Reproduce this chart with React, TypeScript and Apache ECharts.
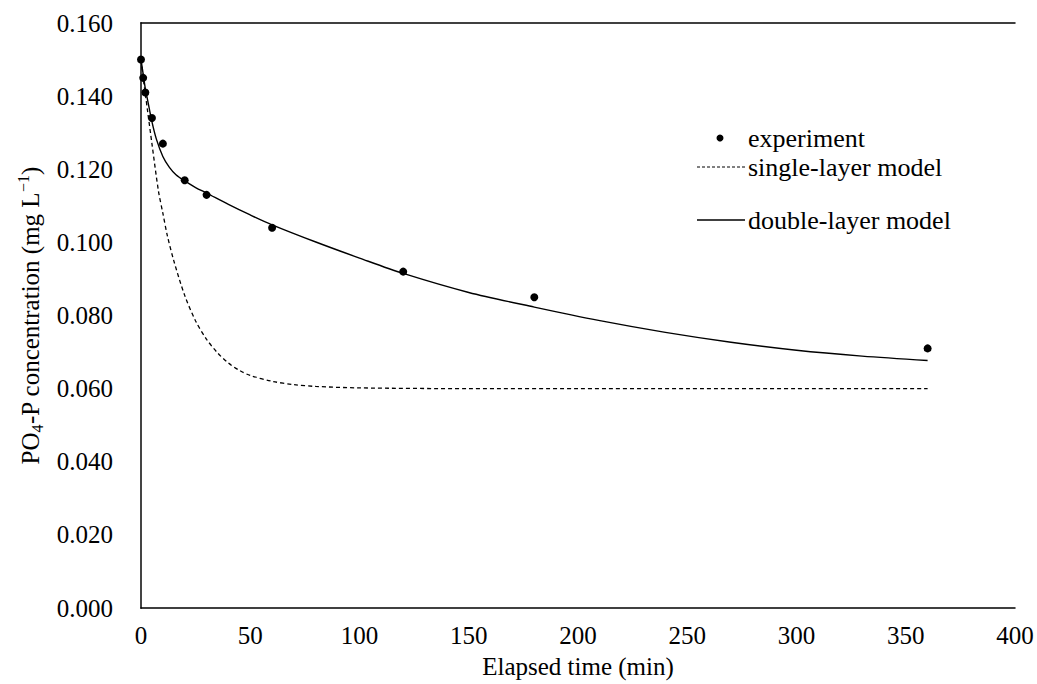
import React, { useEffect, useRef } from "react";
import * as echarts from "echarts";

const expTime = [0, 1, 2, 5, 10, 20, 30, 60, 120, 180, 360];
const expConc = [0.15, 0.145, 0.141, 0.134, 0.127, 0.117, 0.113, 0.104, 0.092, 0.085, 0.071];

const singleTime = [0, 1, 2, 3, 5, 8, 10, 12, 15, 20, 25, 30, 35, 40, 45, 50, 60, 70, 80, 100, 150, 200, 250, 300, 360];
const singleConc = [0.15, 0.145, 0.1405, 0.136, 0.127, 0.114, 0.108, 0.102, 0.095, 0.0855, 0.0785, 0.0735, 0.0698, 0.067, 0.065, 0.0636, 0.062, 0.0611, 0.0606, 0.0602, 0.06, 0.06, 0.06, 0.06, 0.06];

const doubleTime = [0, 1, 2, 3, 5, 7, 10, 13, 16, 20, 25, 30, 40, 50, 60, 80, 100, 120, 150, 180, 210, 240, 270, 300, 330, 360];
const doubleConc = [0.15, 0.146, 0.142, 0.139, 0.133, 0.1283, 0.1235, 0.1205, 0.1185, 0.1168, 0.115, 0.1135, 0.1104, 0.1075, 0.1048, 0.1001, 0.0957, 0.0915, 0.0863, 0.0823, 0.0786, 0.0754, 0.0727, 0.0705, 0.0689, 0.0677];

const legendNames = ["experiment", "single-layer model", "double-layer model"];
const xTitle = "Elapsed time (min)";

const FONT = "'Liberation Serif', 'Times New Roman', serif";

export default function App() {
  const ref = useRef<HTMLDivElement>(null);
  useEffect(() => {
    if (!ref.current) return;
    const chart = echarts.init(ref.current, undefined, { renderer: "svg" });
    const zip = (a: number[], b: number[]) => a.map((t, i) => [t, b[i]]);
    const textStyle = { fontFamily: FONT, fontSize: 25, color: "#000" };
    chart.setOption({
      animation: false,
      backgroundColor: "#fff",
      textStyle: { fontFamily: FONT },
      grid: { left: 141, right: 22, top: 23, bottom: 72, containLabel: false },
      xAxis: [
        {
          type: "value",
          min: 0,
          max: 400,
          interval: 50,
          name: xTitle,
          nameLocation: "middle",
          nameGap: 46,
          nameTextStyle: textStyle,
          axisLine: { show: true, lineStyle: { color: "#000", width: 1.5 } },
          axisTick: { show: false },
          splitLine: { show: false },
          axisLabel: { ...textStyle, margin: 15 },
        },
        {
          type: "value",
          position: "top",
          min: 0,
          max: 400,
          axisLine: { show: true, onZero: false, lineStyle: { color: "#000", width: 1.5 } },
          axisTick: { show: false },
          axisLabel: { show: false },
          splitLine: { show: false },
        },
      ],
      yAxis: {
        type: "value",
        min: 0,
        max: 0.16,
        interval: 0.02,
        name: "{a|PO}{s|4}{a|-P concentration (mg L}{p|−1}{a|)}",
        nameLocation: "middle",
        nameGap: 86,
        nameTextStyle: {
          ...textStyle,
          rich: {
            a: { fontFamily: FONT, fontSize: 25, color: "#000", lineHeight: 30 },
            s: { fontFamily: FONT, fontSize: 16, color: "#000", lineHeight: 16, verticalAlign: "bottom" },
            p: { fontFamily: FONT, fontSize: 16, color: "#000", lineHeight: 16, verticalAlign: "top" },
          },
        },
        axisLine: { show: true, lineStyle: { color: "#444", width: 2 } },
        axisTick: { show: false },
        splitLine: { show: false },
        axisLabel: { ...textStyle, margin: 28, formatter: (v: number) => v.toFixed(3) },
      },
      series: [
        {
          name: legendNames[1],
          type: "line",
          data: zip(singleTime, singleConc),
          showSymbol: false,
          symbol: "none",
          smooth: 0.3,
          lineStyle: { color: "#000", width: 1.3, type: [4, 3] },
          z: 2,
        },
        {
          name: legendNames[2],
          type: "line",
          data: zip(doubleTime, doubleConc),
          showSymbol: false,
          symbol: "none",
          smooth: 0.3,
          lineStyle: { color: "#000", width: 1.4 },
          z: 3,
        },
        {
          name: legendNames[0],
          type: "scatter",
          data: zip(expTime, expConc),
          symbol: "circle",
          symbolSize: 8,
          itemStyle: { color: "#000", opacity: 1 },
          z: 4,
        },
      ],
      graphic: [
        { type: "circle", shape: { cx: 720, cy: 138, r: 3.5 }, style: { fill: "#000" } },
        { type: "text", x: 748, y: 138, style: { text: legendNames[0], font: `26px ${FONT}`, fill: "#000", verticalAlign: "middle" } },
        { type: "line", shape: { x1: 697, y1: 167, x2: 745, y2: 167 }, style: { stroke: "#000", lineWidth: 1, lineDash: [3, 2] } },
        { type: "text", x: 748, y: 167, style: { text: legendNames[1], font: `26px ${FONT}`, fill: "#000", verticalAlign: "middle" } },
        { type: "line", shape: { x1: 697, y1: 220, x2: 745, y2: 220 }, style: { stroke: "#000", lineWidth: 1.3 } },
        { type: "text", x: 748, y: 220, style: { text: legendNames[2], font: `26px ${FONT}`, fill: "#000", verticalAlign: "middle" } },
      ],
    });
    return () => chart.dispose();
  }, []);
  return (
    <div style={{ position: "absolute", left: 0, top: 0, width: 1037, height: 684, overflow: "hidden" }}>
      <div ref={ref} style={{ width: 1037, height: 684 }} />
    </div>
  );
}
